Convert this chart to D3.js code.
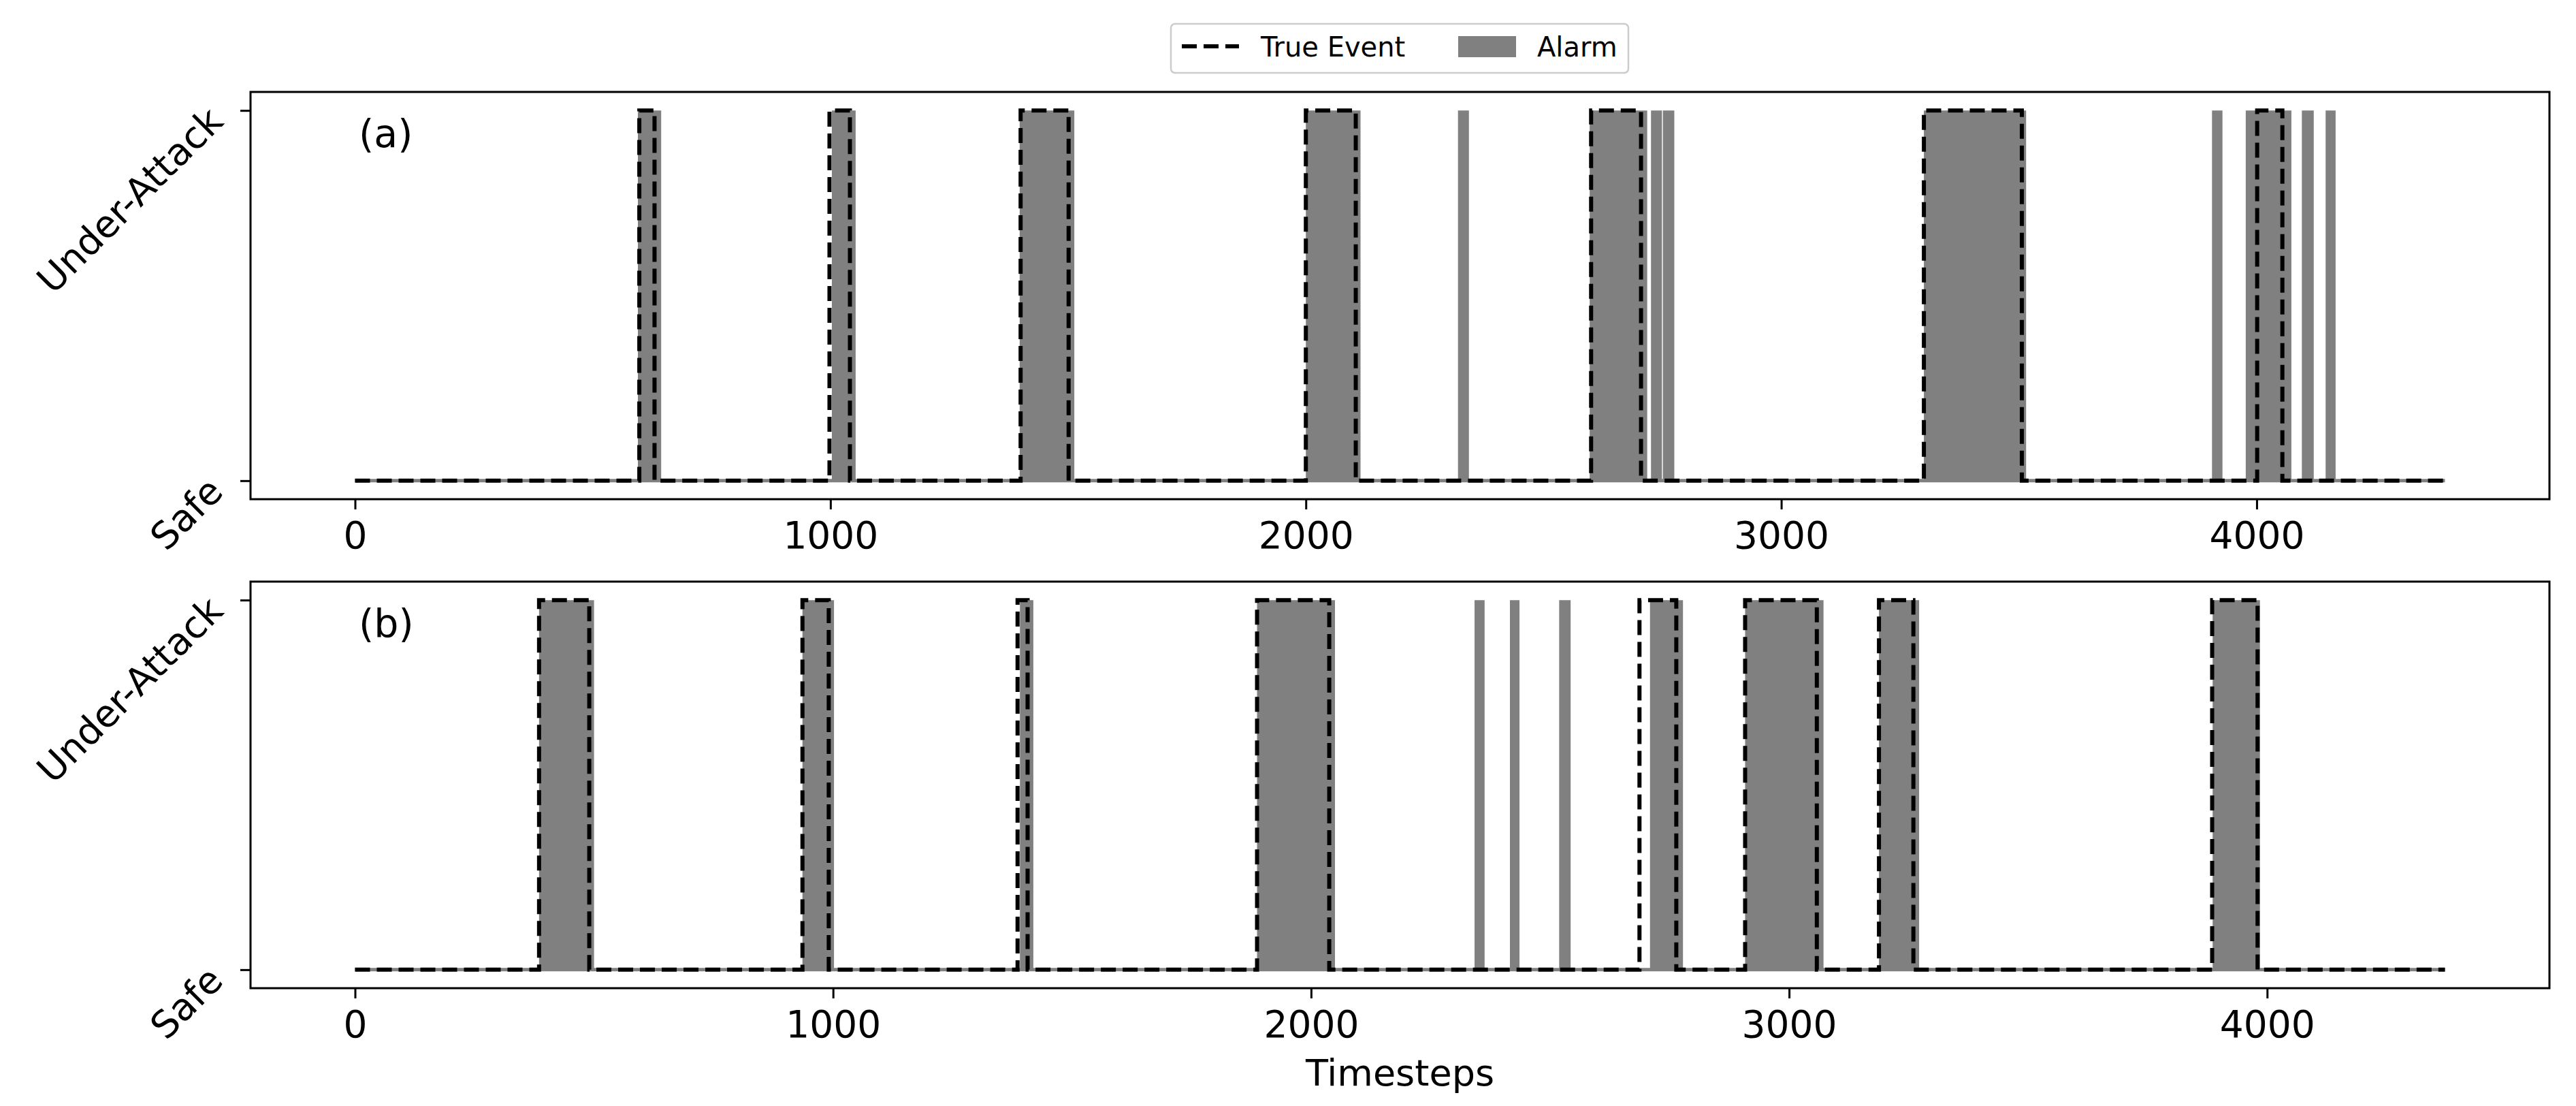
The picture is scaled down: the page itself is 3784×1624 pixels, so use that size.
<!DOCTYPE html>
<html>
<head>
<meta charset="utf-8">
<script src="https://cdn.jsdelivr.net/npm/d3@7"></script>
<style>
  html, body { margin: 0; padding: 0; background: #fff; }
  svg { display: block; }
</style>
</head>
<body>
<svg id="chart" width="3784" height="1624"></svg>
<script>
// ---------------- data ----------------
const xTickValues = [0, 1000, 2000, 3000, 4000];
const yTickLabels = ["Safe", "Under-Attack"];
const panelLabels = ["(a)", "(b)"];
const lastTimestep = [4396, 4372];

// [start, end] timesteps where the state is "Under-Attack"
const trueEventsA = [[598, 630], [998, 1041], [1400, 1501], [2000, 2105], [2600, 2705], [3300, 3506], [4001, 4054]];
const alarmsA = [[595, 644], [1003, 1053], [1398, 1513], [2000, 2115], [2320, 2343], [2597, 2718], [2726, 2749], [2751, 2775], [3300, 3515], [3906, 3928], [3977, 4073], [4095, 4120], [4145, 4166]];
const trueEventsB = [[385, 490], [936, 991], [1386, 1407], [1887, 2038], [2687, 2764], [2908, 3058], [3188, 3260], [3885, 3980]];
const alarmsB = [[385, 500], [936, 1002], [1391, 1419], [1887, 2050], [2342, 2363], [2416, 2436], [2519, 2543], [2709, 2778], [2908, 3072], [3188, 3272], [3886, 3985]];

const legendLabels = ["True Event", "Alarm"];
const xAxisTitle = "Timesteps";

// ---------------- layout ----------------
const FONT = "DejaVu Sans";
const svg = d3.select("#chart");
svg.append("rect").attr("width", 3784).attr("height", 1624).attr("fill", "#fff");

const left = 368, right = 3745;
const panelBoxes = [{ top: 135, bottom: 733 }, { top: 854, bottom: 1451 }];
const panelData = [
  { truth: trueEventsA, alarm: alarmsA },
  { truth: trueEventsB, alarm: alarmsB }
];

function toSteps(intervals, end) {
  const pts = [[0, 0]];
  intervals.forEach(([s, e]) => { pts.push([s, 1]); pts.push([e, 0]); });
  pts.push([end, 0]);
  return pts;
}

panelBoxes.forEach((box, i) => {
  const end = lastTimestep[i];
  const x = d3.scaleLinear().domain([-0.05 * end, 1.05 * end]).range([left, right]);
  const y = d3.scaleLinear().domain([-0.05, 1.05]).range([box.bottom, box.top]);
  const g = svg.append("g");

  const clipId = "clip" + i;
  svg.append("clipPath").attr("id", clipId)
    .append("rect").attr("x", left).attr("y", box.top).attr("width", right - left).attr("height", box.bottom - box.top);

  const plot = g.append("g").attr("clip-path", `url(#${clipId})`);

  const alarmPts = toSteps(panelData[i].alarm, end);
  const truthPts = toSteps(panelData[i].truth, end);

  const area = d3.area().curve(d3.curveStepAfter)
    .x(d => x(d[0])).y0(y(0)).y1(d => y(d[1]));
  const line = d3.line().curve(d3.curveStepAfter)
    .x(d => x(d[0])).y(d => y(d[1]));

  // alarm baseline (Safe level) and filled alarm intervals
  plot.append("path").attr("d", line([[0, 0], [end, 0]])).attr("fill", "none")
    .attr("stroke", "#808080").attr("stroke-width", 5);
  plot.append("path").attr("d", area(alarmPts)).attr("fill", "#808080");
  // true event dashed step line
  plot.append("path").attr("d", line(truthPts)).attr("fill", "none")
    .attr("stroke", "#000").attr("stroke-width", 6)
    .attr("stroke-dasharray", "22,10");

  // x axis
  const xAxis = d3.axisBottom(x).tickValues(xTickValues).tickSize(15).tickFormat(d3.format("d"));
  const ax = g.append("g").attr("transform", `translate(0,${box.bottom})`).call(xAxis);
  ax.select(".domain").remove();
  ax.selectAll(".tick line").attr("stroke", "#000").attr("stroke-width", 3);
  ax.selectAll(".tick text").attr("y", 72).attr("dy", null)
    .attr("font-family", FONT).attr("font-size", 55).attr("fill", "#000");

  // y axis
  const yAxis = d3.axisLeft(y).tickValues([0, 1]).tickSize(15).tickFormat(d => yTickLabels[d]);
  const ay = g.append("g").attr("transform", `translate(${left},0)`).call(yAxis);
  ay.select(".domain").remove();
  ay.selectAll(".tick line").attr("stroke", "#000").attr("stroke-width", 3);
  ay.selectAll(".tick text")
    .attr("x", null).attr("dy", null)
    .attr("text-anchor", "end")
    .attr("dominant-baseline", "central")
    .attr("transform", "translate(-51,5) rotate(-45)")
    .attr("font-family", FONT).attr("font-size", 55).attr("fill", "#000");

  // frame
  g.append("rect").attr("x", left).attr("y", box.top)
    .attr("width", right - left).attr("height", box.bottom - box.top)
    .attr("fill", "none").attr("stroke", "#000").attr("stroke-width", 3);

  // panel label
  g.append("text").attr("x", 527).attr("y", box.top + 81)
    .attr("font-family", FONT).attr("font-size", 57).attr("fill", "#000")
    .text(panelLabels[i]);
});

// x axis title
svg.append("text").attr("x", (left + right) / 2).attr("y", 1594)
  .attr("text-anchor", "middle").attr("font-family", FONT).attr("font-size", 54)
  .attr("fill", "#000").text(xAxisTitle);

// legend
const lg = svg.append("g");
lg.append("rect").attr("x", 1720).attr("y", 35).attr("width", 672).attr("height", 72)
  .attr("rx", 6).attr("fill", "#fff").attr("stroke", "#cccccc").attr("stroke-width", 2.5);
lg.append("line").attr("x1", 1736).attr("x2", 1820).attr("y1", 68).attr("y2", 68)
  .attr("stroke", "#000").attr("stroke-width", 6).attr("stroke-dasharray", "22,10");
lg.append("text").attr("x", 1852).attr("y", 83).attr("font-family", FONT).attr("font-size", 40)
  .attr("fill", "#000").text(legendLabels[0]);
lg.append("rect").attr("x", 2142).attr("y", 53).attr("width", 85).attr("height", 31).attr("fill", "#808080");
lg.append("text").attr("x", 2258).attr("y", 83).attr("font-family", FONT).attr("font-size", 40)
  .attr("fill", "#000").text(legendLabels[1]);
</script>
</body>
</html>
